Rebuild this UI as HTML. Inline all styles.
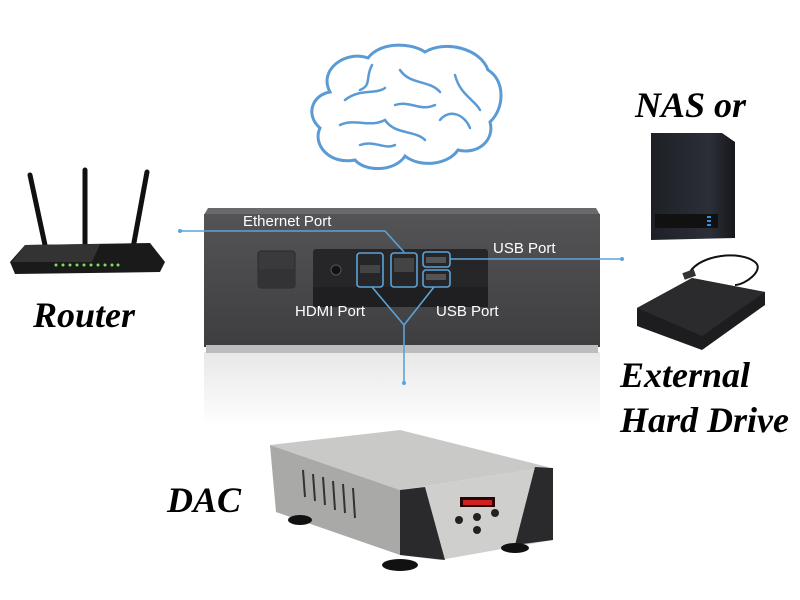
<!DOCTYPE html>
<html><head><meta charset="utf-8"><style>
html,body{margin:0;padding:0;background:#fff;width:800px;height:600px;overflow:hidden}
</style></head><body>
<svg width="800" height="600" viewBox="0 0 800 600" xmlns="http://www.w3.org/2000/svg">
<defs>
<linearGradient id="box" x1="0" y1="0" x2="0" y2="1"><stop offset="0" stop-color="#545456"/><stop offset="1" stop-color="#3e3e40"/></linearGradient>
<linearGradient id="refl" x1="0" y1="0" x2="0" y2="1"><stop offset="0" stop-color="#d8d8d8"/><stop offset="1" stop-color="#ffffff"/></linearGradient>
<linearGradient id="nas" x1="0" y1="0" x2="1" y2="0"><stop offset="0" stop-color="#1e2026"/><stop offset="0.7" stop-color="#2c2f38"/><stop offset="1" stop-color="#16171b"/></linearGradient>
</defs>
<g fill="#fff" stroke="#5b9bd5" stroke-width="3" stroke-linecap="round">
<path d="M330 92 C318 70 345 50 368 58 C380 42 410 42 425 52 C445 40 480 48 488 70 C505 80 505 108 490 122 C495 140 478 155 458 150 C448 165 420 168 405 156 C395 172 365 172 355 160 C330 165 312 145 320 128 C305 115 312 95 330 92 Z"/>
<path d="M345 100 C360 88 375 95 385 88 M400 70 C410 85 430 80 440 92 M455 75 C460 95 475 100 480 110 M340 125 C355 118 370 128 385 120 C395 135 415 130 425 140 M440 120 C450 108 465 115 470 128 M372 65 C365 78 372 85 360 90 M395 105 C410 100 420 112 435 105 M360 145 C375 140 385 150 395 145" fill="none" stroke-width="2.5"/>
</g>
<g>
<line x1="30" y1="175" x2="45" y2="245" stroke="#111" stroke-width="5" stroke-linecap="round"/>
<line x1="85" y1="170" x2="85" y2="245" stroke="#111" stroke-width="5" stroke-linecap="round"/>
<line x1="147" y1="172" x2="133" y2="248" stroke="#111" stroke-width="5" stroke-linecap="round"/>
<path d="M25 245 L150 243 L165 262 L160 272 L15 274 L10 262 Z" fill="#1a1a1a"/>
<path d="M25 245 L100 244 L92 262 L12 262 Z" fill="#333"/>
<g fill="#7be05a"><circle cx="56" cy="265" r="1.5"/><circle cx="63" cy="265" r="1.5"/><circle cx="70" cy="265" r="1.5"/><circle cx="77" cy="265" r="1.5"/><circle cx="84" cy="265" r="1.5"/><circle cx="91" cy="265" r="1.5"/><circle cx="98" cy="265" r="1.5"/><circle cx="105" cy="265" r="1.5"/><circle cx="112" cy="265" r="1.5"/><circle cx="118" cy="265" r="1.5"/></g>
</g>
<rect x="204" y="352" width="396" height="75" fill="url(#refl)" opacity="0.6"/>
<path d="M208 208 L596 208 L600 215 L204 215 Z" fill="#6a6a6c"/>
<rect x="204" y="214" width="396" height="133" fill="url(#box)"/>
<rect x="206" y="345" width="392" height="8" fill="#bdbdbd"/>
<rect x="258" y="251" width="37" height="37" rx="3" fill="#3a3a3c" stroke="#2a2a2a"/>
<rect x="258" y="269" width="37" height="19" fill="#333335"/>
<rect x="313" y="249" width="175" height="50" rx="3" fill="#262628"/>
<rect x="313" y="287" width="175" height="20" fill="#1f1f21"/>
<circle cx="336" cy="270" r="5" fill="#111" stroke="#555"/>
<rect x="360" y="265" width="20" height="8" fill="#444"/>
<rect x="394" y="258" width="20" height="14" fill="#444"/>
<rect x="426" y="257" width="20" height="6" fill="#555"/>
<rect x="426" y="274" width="20" height="6" fill="#555"/>
<g fill="none" stroke="#5ba3d8" stroke-width="1.6">
<rect x="357" y="253" width="26" height="34" rx="3"/>
<rect x="391" y="253" width="26" height="34" rx="3"/>
<rect x="423" y="252" width="27" height="15" rx="3"/>
<rect x="423" y="270" width="27" height="17" rx="3"/>
<polyline points="180,231 385,231 404,252"/>
<line x1="450" y1="259" x2="622" y2="259"/>
<polyline points="372,287 404,325 434,287"/>
<line x1="404" y1="325" x2="404" y2="383"/>
</g>
<g fill="#5ba3d8"><circle cx="180" cy="231" r="2"/><circle cx="622" cy="259" r="2"/><circle cx="404" cy="383" r="2"/></g>
<g font-family="Liberation Sans, sans-serif" font-size="15" fill="#fff">
<text x="243" y="226">Ethernet Port</text>
<text x="493" y="253">USB Port</text>
<text x="295" y="316">HDMI Port</text>
<text x="436" y="316">USB Port</text>
</g>
<path d="M651 133 L722 133 L735 142 L735 238 L651 240 Z" fill="url(#nas)"/>
<rect x="655" y="214" width="63" height="14" fill="#111"/>
<g fill="#3a8ee0"><rect x="707" y="216" width="4" height="2"/><rect x="707" y="220" width="4" height="2"/><rect x="707" y="224" width="4" height="2"/></g>
<path d="M690 272 C700 255 740 250 755 262 C765 270 745 285 735 285" fill="none" stroke="#111" stroke-width="2"/>
<rect x="683" y="271" width="12" height="7" fill="#333" transform="rotate(-20 689 274)"/>
<path d="M637 308 L692 278 L765 292 L765 305 L702 350 L637 326 Z" fill="#1d1d1f"/>
<path d="M637 308 L692 278 L765 292 L702 336 Z" fill="#2b2b2e"/>
<path d="M270 445 L400 430 L548 467 L400 490 Z" fill="#c9c9c7"/>
<path d="M270 445 L400 490 L400 555 L276 512 Z" fill="#a9a9a7"/>
<path d="M400 490 L548 467 L553 540 L440 560 L400 555 Z" fill="#cfcfcd"/>
<path d="M400 490 L425 487 L445 560 L400 555 Z" fill="#2a2a2c"/>
<path d="M535 467 L553 468 L553 540 L515 545 Z" fill="#2a2a2c"/>
<rect x="460" y="497" width="35" height="10" fill="#2a0505"/>
<rect x="463" y="500" width="29" height="5" fill="#d02020"/>
<g fill="#222"><circle cx="459" cy="520" r="4"/><circle cx="477" cy="517" r="4"/><circle cx="495" cy="513" r="4"/><circle cx="477" cy="530" r="4"/></g>
<g stroke="#333" stroke-width="2"><line x1="303" y1="470" x2="305" y2="497"/><line x1="313" y1="474" x2="315" y2="501"/><line x1="323" y1="477" x2="325" y2="505"/><line x1="333" y1="481" x2="335" y2="510"/><line x1="343" y1="484" x2="345" y2="513"/><line x1="353" y1="488" x2="355" y2="518"/></g>
<ellipse cx="300" cy="520" rx="12" ry="5" fill="#111"/>
<ellipse cx="400" cy="565" rx="18" ry="6" fill="#111"/>
<ellipse cx="515" cy="548" rx="14" ry="5" fill="#111"/>
<g font-family="Liberation Serif, serif" font-style="italic" font-weight="bold" fill="#000" font-size="36">
<text x="33" y="327">Router</text>
<text x="635" y="117">NAS or</text>
<text x="620" y="387">External</text>
<text x="620" y="432">Hard Drive</text>
<text x="167" y="512">DAC</text>
</g>
</svg>
</body></html>
